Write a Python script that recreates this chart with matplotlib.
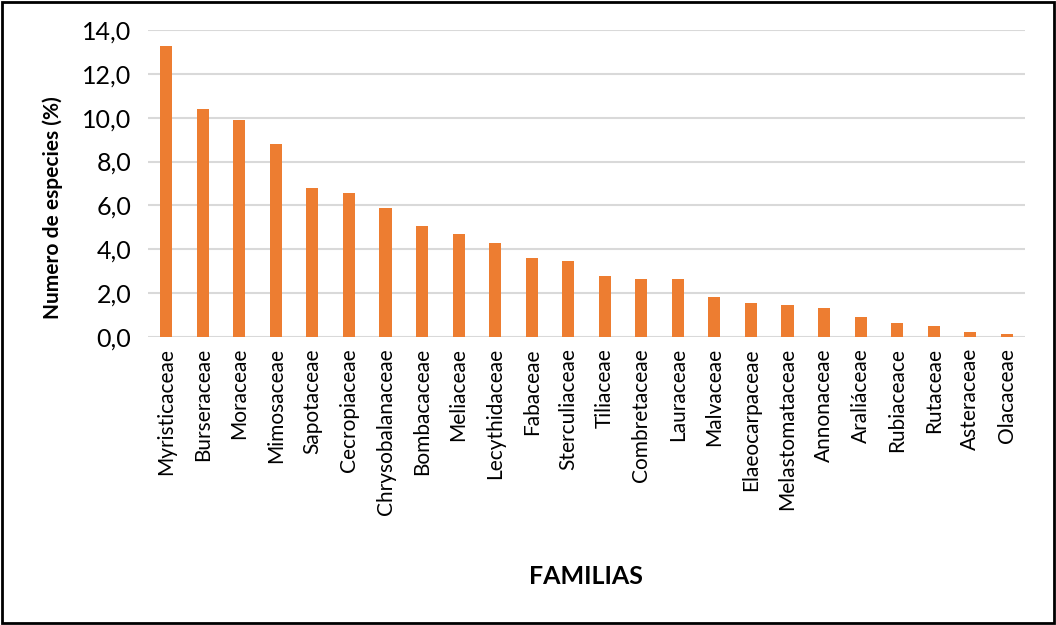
import numpy as np
import matplotlib.pyplot as plt
from matplotlib.patches import Rectangle

familias = ['Myristicaceae', 'Burseraceae', 'Moraceae', 'Mimosaceae', 'Sapotaceae',
            'Cecropiaceae', 'Chrysobalanaceae', 'Bombacaceae', 'Meliaceae', 'Lecythidaceae',
            'Fabaceae', 'Sterculiaceae', 'Tiliaceae', 'Combretaceae', 'Lauraceae',
            'Malvaceae', 'Elaeocarpaceae', 'Melastomataceae', 'Annonaceae', 'Araliáceae',
            'Rubiaceace', 'Rutaceae', 'Asteraceae', 'Olacaceae']
porcentaje = [13.25, 10.4, 9.9, 8.8, 6.8,
              6.55, 5.87, 5.06, 4.68, 4.27,
              3.6, 3.46, 2.8, 2.65, 2.65,
              1.84, 1.57, 1.44, 1.31, 0.9,
              0.65, 0.51, 0.24, 0.12]
yticks = [0, 2, 4, 6, 8, 10, 12, 14]

plt.rcParams['font.family'] = ['Lato', 'DejaVu Sans']

fig = plt.figure(figsize=(10.56, 6.25), dpi=100)
ax = fig.add_axes([148/1056, 1 - 337/625, (1025-148)/1056, (337-30)/625])

x = np.arange(len(familias))
ax.bar(x, porcentaje, width=0.33, color='#ED7D31', zorder=3)

ax.set_xlim(-0.5, len(familias) - 0.5)
ax.set_ylim(0, 14)
ax.set_yticks(yticks)
ax.set_yticklabels([('%.1f' % v).replace('.', ',') for v in yticks])
ax.set_xticks(x)
ax.set_xticklabels(familias, rotation=90)
ax.tick_params(axis='x', length=0, labelsize=15, colors='black', pad=8)
ax.tick_params(axis='y', length=0, labelsize=18, colors='black', pad=12)
ax.grid(axis='y', color='#d9d9d9', linewidth=1.5, zorder=0)
for s in ax.spines.values():
    s.set_visible(False)

ax.set_ylabel('Numero de especies (%)', fontsize=15, fontweight='bold')
ax.yaxis.set_label_coords(-85/877, 0.42)
fig.text(586/1056, 1 - 577/625, 'FAMILIAS', fontsize=18, fontweight='bold',
         ha='center', va='center')

fig.patches.append(Rectangle((0.002, 0.003), 0.996, 0.994, transform=fig.transFigure,
                             fill=False, edgecolor='black', linewidth=2))

fig.savefig('out.png', dpi=100)
